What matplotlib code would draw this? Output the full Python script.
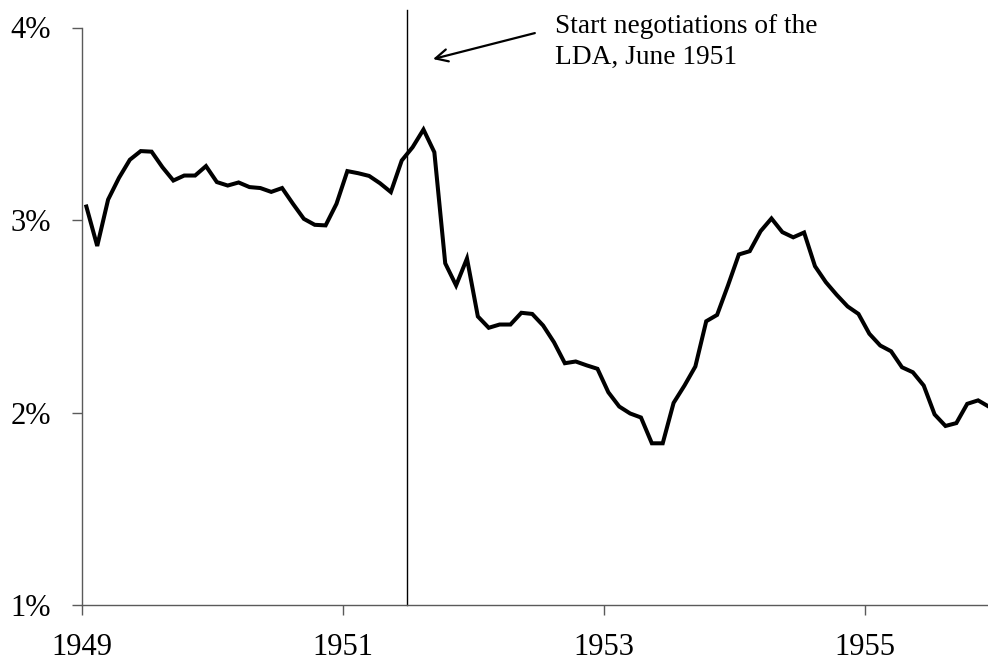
import numpy as np
import matplotlib
matplotlib.use("Agg")
import matplotlib.pyplot as plt

# Monthly rate (%), Jan 1949 - Dec 1955
rate = [3.070, 2.865, 3.106, 3.219, 3.313, 3.358, 3.355, 3.274, 3.205, 3.231,
        3.231, 3.280, 3.197, 3.179, 3.195, 3.171, 3.166, 3.146, 3.166, 3.084,
        3.006, 2.975, 2.972, 3.084, 3.254, 3.243, 3.229, 3.191, 3.145, 3.309,
        3.378, 3.470, 3.352, 2.775, 2.660, 2.800, 2.499, 2.440, 2.457, 2.457,
        2.518, 2.512, 2.452, 2.365, 2.256, 2.265, 2.245, 2.227, 2.105, 2.031,
        1.995, 1.974, 1.840, 1.840, 2.050, 2.140, 2.239, 2.474, 2.507, 2.660,
        2.821, 2.838, 2.942, 3.008, 2.937, 2.910, 2.935, 2.760, 2.677, 2.611,
        2.551, 2.512, 2.409, 2.348, 2.318, 2.235, 2.209, 2.140, 1.990, 1.930,
        1.945, 2.045, 2.063, 2.03]
start_year = 1949
months = start_year + (np.arange(len(rate)) + 0.4) / 12.0

year_ticks = [1949, 1951, 1953, 1955]
pct_ticks = [1, 2, 3, 4]
event_x = 1951.49
annotation = "Start negotiations of the\nLDA, June 1951"

plt.rcParams['font.family'] = ['Liberation Serif', 'DejaVu Serif']

fig = plt.figure(figsize=(9.88, 6.61), dpi=100)
ax = fig.add_axes([82/988, 56/661, 1 - 82/988, (605 - 27.5)/661])

ax.plot(months, rate, color='black', lw=2.9, solid_joinstyle='miter', clip_on=True)

ax.set_xlim(1949, 1949 + (988 - 82)/130.5)
ax.set_ylim(1, 4)

ax.plot([event_x, event_x], [1, 4.09], color='black', lw=1.0, clip_on=False)

ax.annotate("", xy=(1951.69, 3.836), xytext=(1952.47, 3.971),
            arrowprops=dict(arrowstyle='->', color='black', lw=1.6,
                            mutation_scale=22, shrinkA=0, shrinkB=0),
            annotation_clip=False)
ax.text(1952.625, 4.07, annotation, fontsize=19.7, va='top', ha='left',
        linespacing=1.30, clip_on=False)

ax.set_xticks(year_ticks)
ax.set_xticklabels([str(y) for y in year_ticks])
ax.set_yticks(pct_ticks)
ax.set_yticklabels([f"{p}%" for p in pct_ticks])

for s in ['top', 'right']:
    ax.spines[s].set_visible(False)
for s in ['left', 'bottom']:
    ax.spines[s].set_color('#5a5a5a')
    ax.spines[s].set_linewidth(1.0)

ax.tick_params(axis='both', direction='out', length=7, width=1.0,
               color='#5a5a5a', labelsize=22, labelcolor='black')
ax.tick_params(axis='y', pad=15.5)
ax.tick_params(axis='x', pad=13)

fig.savefig("out.png", dpi=100)
